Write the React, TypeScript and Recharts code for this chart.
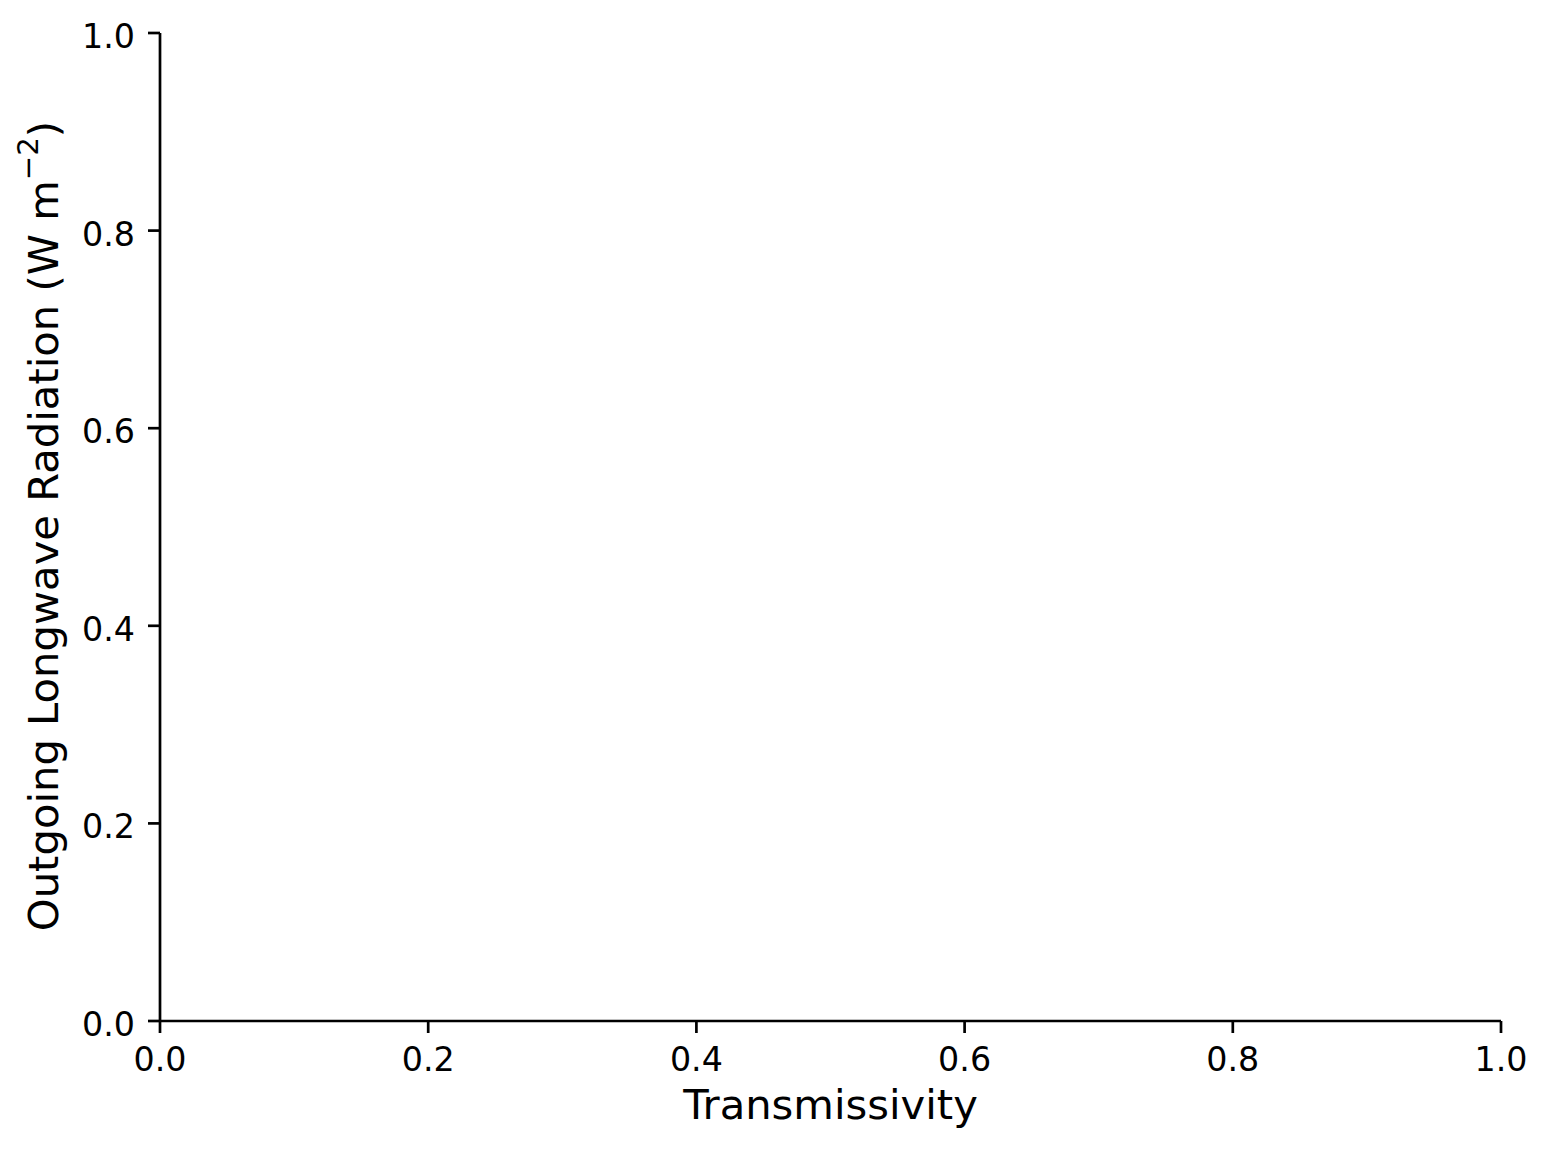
import { ScatterChart, Scatter, XAxis, YAxis } from 'recharts'

// axis ticks (both axes run 0..1, nothing plotted)
const X_TICKS = [0, 0.2, 0.4, 0.6, 0.8, 1.0]
const Y_TICKS = [0, 0.2, 0.4, 0.6, 0.8, 1.0]
const X_DOMAIN: [number, number] = [0, 1]
const Y_DOMAIN: [number, number] = [0, 1]

// the reference figure is an empty axes: no series drawn
const OLR_POINTS: { transmissivity: number; olr: number }[] = []

const X_LABEL = 'Transmissivity'
const Y_LABEL = 'Outgoing Longwave Radiation (W m'
const Y_LABEL_SUP = '\u22122'

const FONT = '"DejaVu Sans", sans-serif'
const TICK_SIZE = 33.3
const LABEL_SIZE = 41.7
const LINE_W = 2.7

function XTick({ x, y, payload }: any) {
  return (
    <text x={x} y={y + 38} textAnchor="middle" fontSize={TICK_SIZE} fontFamily={FONT} fill="#000">
      {Number(payload.value).toFixed(1)}
    </text>
  )
}

function YTick({ x, y, payload }: any) {
  return (
    <text x={x - 13} y={y + 15} textAnchor="end" fontSize={TICK_SIZE} fontFamily={FONT} fill="#000">
      {Number(payload.value).toFixed(1)}
    </text>
  )
}

function XLabel({ viewBox }: any) {
  const cx = viewBox.x + viewBox.width / 2
  return (
    <text x={cx} y={viewBox.y + 97.5} textAnchor="middle" fontSize={LABEL_SIZE} fontFamily={FONT} fill="#000">
      {X_LABEL}
    </text>
  )
}

function YLabel({ viewBox }: any) {
  const cy = viewBox.y + viewBox.height / 2 - 1
  const bx = 58
  return (
    <text
      x={bx}
      y={cy}
      transform={`rotate(-90 ${bx} ${cy})`}
      textAnchor="middle"
      fontSize={LABEL_SIZE}
      fontFamily={FONT}
      fill="#000"
    >
      {Y_LABEL}
      <tspan fontSize={29.2} dy={-20}>{Y_LABEL_SUP}</tspan>
      <tspan dy={20}>)</tspan>
    </text>
  )
}

export default function App() {
  return (
    <div style={{ position: 'absolute', left: 0, top: 0, width: 1550, height: 1150, background: '#fff' }}>
      <ScatterChart width={1550} height={1150} margin={{ top: 33, right: 49, bottom: 0, left: 0 }}>
        <XAxis
          type="number"
          dataKey="transmissivity"
          domain={X_DOMAIN}
          ticks={X_TICKS}
          allowDataOverflow
          height={129}
          tickSize={12}
          tickMargin={0}
          tick={<XTick />}
          tickLine={{ stroke: '#000', strokeWidth: LINE_W }}
          axisLine={{ stroke: '#000', strokeWidth: LINE_W }}
          label={{ content: (p: any) => <XLabel {...p} /> }}
        />
        <YAxis
          type="number"
          dataKey="olr"
          domain={Y_DOMAIN}
          ticks={Y_TICKS}
          allowDataOverflow
          width={160}
          tickSize={12}
          tickMargin={0}
          tick={<YTick />}
          tickLine={{ stroke: '#000', strokeWidth: LINE_W }}
          axisLine={{ stroke: '#000', strokeWidth: LINE_W }}
          label={{ content: (p: any) => <YLabel {...p} /> }}
        />
        <Scatter data={OLR_POINTS} isAnimationActive={false} fill="#1f77b4" />
      </ScatterChart>
    </div>
  )
}
